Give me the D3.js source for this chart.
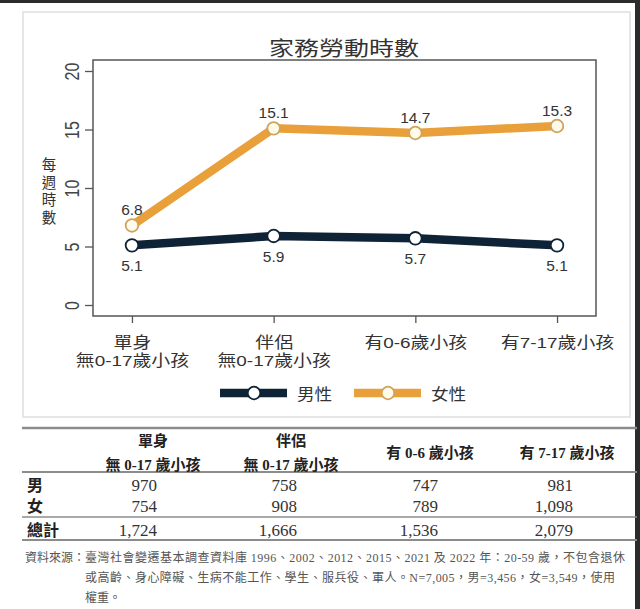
<!DOCTYPE html>
<html><head><meta charset="utf-8">
<script src="https://cdn.jsdelivr.net/npm/d3@7"></script>
<style>body{margin:0;background:#fff;overflow:hidden}</style>
</head><body><svg id="c" width="640" height="609"></svg>
<script>
// ---------- data ----------
const categories = ["單身|無0-17歲小孩", "伴侶|無0-17歲小孩", "有0-6歲小孩", "有7-17歲小孩"];
const maleHours = [5.1, 5.9, 5.7, 5.1];
const femaleHours = [6.8, 15.1, 14.7, 15.3];
const yTicks = [0, 5, 10, 15, 20];
const seriesNames = ["男性", "女性"];
const chartTitle = "家務勞動時數";
const yTitle = ["每", "週", "時", "數"];
const tableHeaders = ["單身|無 0-17 歲小孩", "伴侶|無 0-17 歲小孩", "有 0-6 歲小孩", "有 7-17 歲小孩"];
const rowLabels = ["男", "女", "總計"];
const tableMale = [970, 758, 747, 981];
const tableFemale = [754, 908, 789, 1098];
const tableTotal = [1724, 1666, 1536, 2079];
const footPrefix = "資料來源：";
const footLines = [
  "臺灣社會變遷基本調查資料庫 1996、2002、2012、2015、2021 及 2022 年：20-59 歲，不包含退休",
  "或高齡、身心障礙、生病不能工作、學生、服兵役、軍人。N=7,005，男=3,456，女=3,549，使用",
  "權重。"
];

// ---------- setup ----------
const svg = d3.select("#c");
const sans = "'Liberation Sans', Arial, 'Noto Sans CJK TC', sans-serif";
const serif = "'Liberation Serif', 'Times New Roman', 'Noto Sans CJK TC', serif";
const maleColor = "#0f2336", femaleColor = "#e9a03a";
const SX = 1.22;

// screenshot borders
svg.append("rect").attr("x", 0).attr("y", 0).attr("width", 640).attr("height", 3).attr("fill", "#2b2b2b");
svg.append("rect").attr("x", 635).attr("y", 0).attr("width", 5).attr("height", 609).attr("fill", "#2b2b2b");

// chart frame
svg.append("rect").attr("x", 23).attr("y", 12).attr("width", 607).attr("height", 405)
  .attr("fill", "#fff").attr("stroke", "#dedede").attr("stroke-width", 1.5);

const plot = {left: 93, top: 60, right: 596, bottom: 316};
const x = d3.scalePoint().domain(categories).range([plot.left, plot.right]).padding(0.275);
const y = d3.scaleLinear().domain([0, 20]).range([305, 71]);

// title
svg.append("text").attr("transform", `translate(344,56) scale(1.25,1)`)
  .attr("text-anchor", "middle").attr("font-family", sans).attr("font-size", 20)
  .attr("fill", "#333").text(chartTitle);

// plot box
svg.append("rect").attr("x", plot.left).attr("y", plot.top)
  .attr("width", plot.right - plot.left).attr("height", plot.bottom - plot.top)
  .attr("fill", "#fff").attr("stroke", "#555").attr("stroke-width", 1.5);

// y axis
const yAxis = svg.append("g").attr("transform", `translate(${plot.left},0)`)
  .call(d3.axisLeft(y).tickValues(yTicks).tickSize(8).tickFormat(d3.format("d")));
yAxis.select(".domain").remove();
yAxis.selectAll(".tick line").attr("stroke", "#555").attr("stroke-width", 1.3);
yAxis.selectAll(".tick text").attr("x", null).attr("dy", null)
  .attr("transform", `translate(-14,0) scale(${SX},1) rotate(-90)`)
  .attr("text-anchor", "middle").attr("font-family", sans).attr("font-size", 16).attr("fill", "#444");

// y title stacked
svg.append("g").selectAll("text").data(yTitle).join("text")
  .attr("x", 49).attr("y", (d, i) => 170 + i * 17.7)
  .attr("text-anchor", "middle").attr("font-family", sans).attr("font-size", 14.5)
  .attr("fill", "#333").text(d => d);

// x axis
const xAxis = svg.append("g").attr("transform", `translate(0,${plot.bottom})`)
  .call(d3.axisBottom(x).tickSize(7).tickFormat(""));
xAxis.select(".domain").remove();
xAxis.selectAll(".tick line").attr("stroke", "#555").attr("stroke-width", 1.3);
xAxis.selectAll(".tick").each(function(d) {
  const lines = d.split("|");
  const g = d3.select(this);
  lines.forEach((t, i) => {
    g.append("text").attr("transform", `translate(0,${32 + i * 18}) scale(${SX},1)`)
      .attr("text-anchor", "middle").attr("font-family", sans).attr("font-size", 15.5)
      .attr("fill", "#333").text(t);
  });
});

// lines
const line = d3.line().x((d, i) => x(categories[i])).y(d => y(d));
svg.append("path").datum(femaleHours).attr("d", line).attr("fill", "none")
  .attr("stroke", femaleColor).attr("stroke-width", 8.5).attr("stroke-linejoin", "round");
svg.append("path").datum(maleHours).attr("d", line).attr("fill", "none")
  .attr("stroke", maleColor).attr("stroke-width", 8.5).attr("stroke-linejoin", "round");

// points
svg.append("g").selectAll("circle").data(femaleHours).join("circle")
  .attr("cx", (d, i) => x(categories[i])).attr("cy", d => y(d)).attr("r", 6.3)
  .attr("fill", "#fffbea").attr("stroke", "#cfa45c").attr("stroke-width", 1.8);
svg.append("g").selectAll("circle").data(maleHours).join("circle")
  .attr("cx", (d, i) => x(categories[i])).attr("cy", d => y(d)).attr("r", 6.3)
  .attr("fill", "#fff").attr("stroke", maleColor).attr("stroke-width", 1.8);

// value labels
svg.append("g").selectAll("text").data(femaleHours).join("text")
  .attr("x", (d, i) => x(categories[i])).attr("y", d => y(d) - 10)
  .attr("text-anchor", "middle").attr("font-family", sans).attr("font-size", 15.5)
  .attr("fill", "#333").text(d => d.toFixed(1));
svg.append("g").selectAll("text").data(maleHours).join("text")
  .attr("x", (d, i) => x(categories[i])).attr("y", d => y(d) + 26)
  .attr("text-anchor", "middle").attr("font-family", sans).attr("font-size", 15.5)
  .attr("fill", "#333").text(d => d.toFixed(1));

// legend
const legend = [{name: seriesNames[0], color: maleColor, fill: "#fff", stroke: maleColor, x0: 220},
                {name: seriesNames[1], color: femaleColor, fill: "#fffbea", stroke: "#cfa45c", x0: 354}];
const lg = svg.append("g").selectAll("g").data(legend).join("g")
  .attr("transform", d => `translate(${d.x0},393)`);
lg.append("line").attr("x1", 0).attr("x2", 67).attr("y1", 0).attr("y2", 0)
  .attr("stroke", d => d.color).attr("stroke-width", 8.5);
lg.append("circle").attr("cx", 34).attr("cy", 0).attr("r", 6.3)
  .attr("fill", d => d.fill).attr("stroke", d => d.stroke).attr("stroke-width", 1.8);
lg.append("text").attr("transform", `translate(77,6.5) scale(1.1,1)`)
  .attr("font-family", sans).attr("font-size", 16).attr("fill", "#333").text(d => d.name);

// ---------- table ----------
const tx0 = 22, tx1 = 637;
const rule = (yy, w) => svg.append("line").attr("x1", tx0).attr("x2", tx1).attr("y1", yy).attr("y2", yy)
  .attr("stroke", "#8c8c8c").attr("stroke-width", w);
rule(428, 2.3); rule(472, 2); rule(517, 1.5); rule(540, 2);

const headerCenters = [153, 291, 430, 567];
const numRight = [157, 297, 438, 573];
tableHeaders.forEach((h, i) => {
  const parts = h.split("|");
  const ys = parts.length === 2 ? [446, 470] : [458];
  parts.forEach((t, j) => {
    svg.append("text").attr("x", headerCenters[i]).attr("y", ys[j])
      .attr("text-anchor", "middle").attr("font-family", serif).attr("font-size", 15)
      .attr("font-weight", "bold").attr("fill", "#222").text(t);
  });
});
const rows = [tableMale, tableFemale, tableTotal];
const rowY = [491, 512, 536];
const fmt = d3.format(",");
rows.forEach((r, ri) => {
  svg.append("text").attr("x", 27).attr("y", rowY[ri]).attr("font-family", serif)
    .attr("font-size", 16).attr("font-weight", "bold").attr("fill", "#222").text(rowLabels[ri]);
  svg.append("g").selectAll("text").data(r).join("text")
    .attr("x", (d, i) => numRight[i]).attr("y", rowY[ri]).attr("text-anchor", "end")
    .attr("font-family", serif).attr("font-size", 17).attr("fill", "#333").text(d => fmt(d));
});

// footnote
svg.append("text").attr("x", 25).attr("y", 561.5).attr("font-family", serif)
  .attr("font-size", 12).attr("fill", "#555").text(footPrefix);
const footLen = [540, 530, null];
footLines.forEach((t, i) => {
  const tt = svg.append("text").attr("x", 85).attr("y", 561.5 + i * 20).attr("font-family", serif)
    .attr("font-size", 12).attr("fill", "#555").text(t);
  if (footLen[i]) tt.attr("textLength", footLen[i]).attr("lengthAdjust", "spacing");
});
</script></body></html>
